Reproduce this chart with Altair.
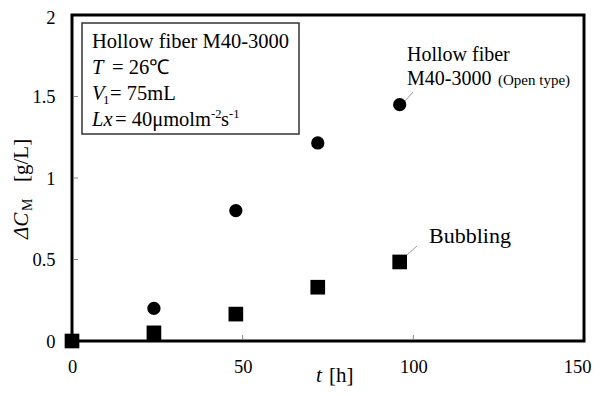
import altair as alt
import pandas as pd

# ---- data ----
t_hours = [0, 24, 48, 72, 96]
hollow_fiber = [0, 0.20, 0.80, 1.215, 1.45]
bubbling = [0, 0.05, 0.165, 0.33, 0.485]
x_ticks = [0, 50, 100, 150]
y_ticks = [0, 0.5, 1, 1.5, 2]
inner_x_ticks = [50, 100]
inner_y_ticks = [0.5, 1, 1.5]

W, H = 512, 326
FONT = "Liberation Serif"

df_hf = pd.DataFrame({"t": t_hours, "c": hollow_fiber})
df_bb = pd.DataFrame({"t": t_hours, "c": bubbling})

xscale = alt.Scale(domain=[0, 150], nice=False, zero=False)
yscale = alt.Scale(domain=[0, 2], nice=False)

xaxis = alt.Axis(values=x_ticks, title=None, grid=False, domain=False, ticks=False,
                 labelPadding=16, labelFont=FONT, labelFontSize=18.5,
                 labelColor="black", labelExpr="datum.value + ''", labelFlush=False,
                 labelOffset={"condition": {"test": "datum.value == 150", "value": -7}, "value": 0})
yaxis = alt.Axis(values=y_ticks, title=None, grid=False, domain=False, ticks=False,
                 labelPadding=17, labelFont=FONT, labelFontSize=18.5,
                 labelColor="black", labelExpr="datum.value + ''", labelFlush=False,
                 labelOffset={"condition": {"test": "datum.value == 2", "value": 2}, "value": 0})

circles = alt.Chart(df_hf).mark_point(shape="circle", filled=True, size=177,
                                      color="black", opacity=1).encode(
    x=alt.X("t:Q", scale=xscale, axis=xaxis),
    y=alt.Y("c:Q", scale=yscale, axis=yaxis),
)
squares = alt.Chart(df_bb).mark_point(shape="square", filled=True, size=215,
                                      color="black", opacity=1).encode(
    x=alt.X("t:Q", scale=xscale),
    y=alt.Y("c:Q", scale=yscale),
)

xt = alt.Chart(pd.DataFrame({"t": inner_x_ticks})).mark_rule(color="#888", strokeWidth=1).encode(
    x=alt.X("t:Q", scale=xscale), y=alt.value(H - 1.5), y2=alt.value(H - 6))
yt = alt.Chart(pd.DataFrame({"c": inner_y_ticks})).mark_rule(color="#888", strokeWidth=1).encode(
    y=alt.Y("c:Q", scale=yscale), x=alt.value(1.5), x2=alt.value(6))

one = pd.DataFrame({"a": [0]})


def label(text, x, y, size=20.5, style="normal", angle=0, color="black"):
    return alt.Chart(one).mark_text(text=text, font=FONT, fontSize=size, fontStyle=style,
                                    align="left", baseline="alphabetic", angle=angle,
                                    color=color).encode(x=alt.value(x), y=alt.value(y))


def line(x1, y1, x2, y2):
    return alt.Chart(one).mark_rule(color="#999", strokeWidth=1).encode(
        x=alt.value(x1), y=alt.value(y1), x2=alt.value(x2), y2=alt.value(y2))


box = alt.Chart(one).mark_rect(fill="white", stroke="#333", strokeWidth=1.5).encode(
    x=alt.value(10), x2=alt.value(227), y=alt.value(8), y2=alt.value(119))

texts = [
    label("Hollow fiber M40-3000", 20, 33),
    label("T", 20, 59, style="italic"),
    label("= 26℃", 40, 59),
    label("V", 20, 85, style="italic"),
    label("1", 31, 89, size=13),
    label("= 75mL", 38, 85),
    label("Lx", 20, 111, style="italic"),
    label("= 40μmolm", 43, 111),
    label("-2", 139, 103, size=12.5),
    label("s", 149, 111),
    label("-1", 157, 103, size=12.5),
    # annotations
    label("Hollow fiber", 335, 46, size=20),
    label("M40-3000", 335, 70, size=20),
    label("(Open type)", 426, 70, size=15),
    label("Bubbling", 357, 228, size=22),
    # axis titles
    label("t", 244, 367, size=21, style="italic"),
    label("[h]", 257, 367, size=21),
    label("ΔC", -44, 224, size=21, style="italic", angle=270),
    label("M", -40, 196, size=14, angle=270),
    label("[g/L]", -44, 167, size=21, angle=270),
]

leaders = [line(333, 86, 341, 77), line(335, 240, 345, 231)]

chart = alt.layer(
    xt, yt, box, *leaders, circles, squares, *texts
).properties(
    width=W, height=H,
    autosize=alt.AutoSizeParams(type="none"),
    padding={"left": 64, "top": 7, "right": 8, "bottom": 47},
).configure_view(stroke="black", strokeWidth=3)

chart.save("out.html", embed_options={"renderer": "svg", "actions": False})
